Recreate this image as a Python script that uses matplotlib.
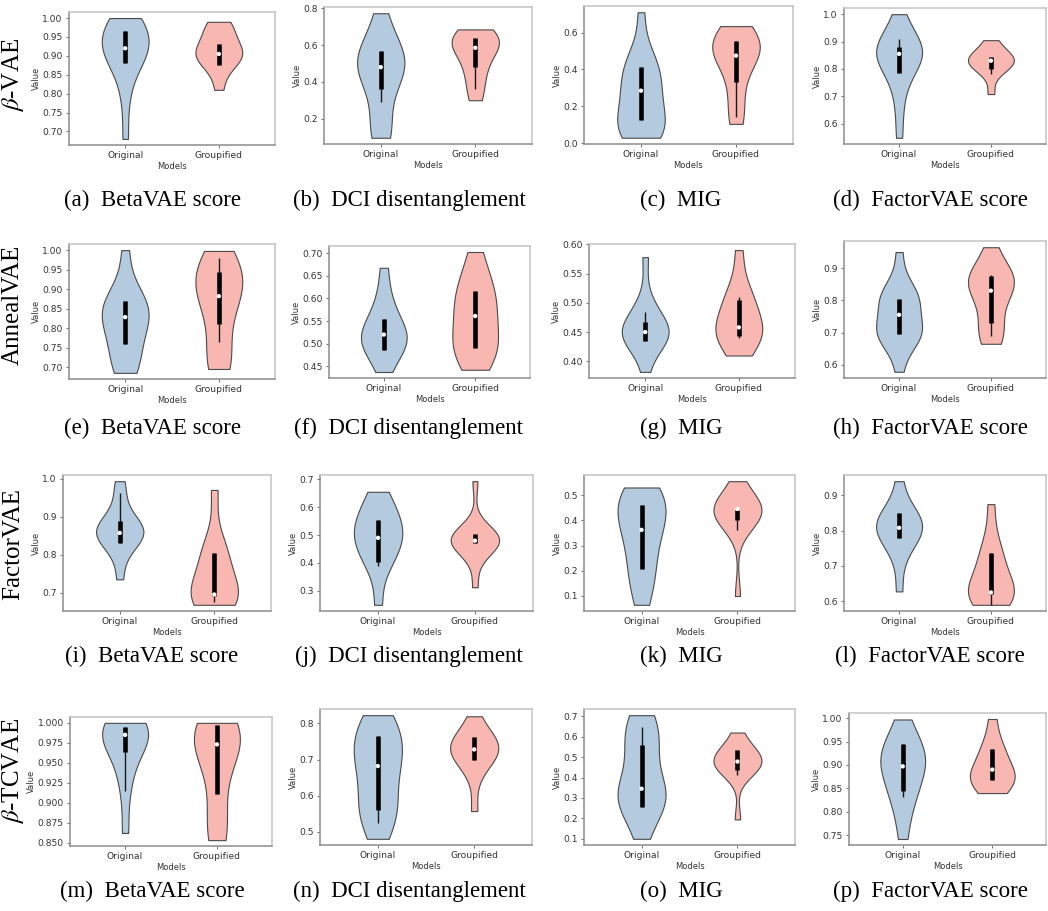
import matplotlib
matplotlib.use("Agg")
import matplotlib.pyplot as plt
from matplotlib.ticker import MultipleLocator
import numpy as np

plt.rcParams['mathtext.fontset'] = 'stix'

models = ['Original', 'Groupified']
methods = [r'$\beta$-VAE', 'AnnealVAE', 'FactorVAE', r'$\beta$-TCVAE']
metrics = ['BetaVAE score', 'DCI disentanglement', 'MIG', 'FactorVAE score']
letters = 'abcdefghijklmnop'

# per-run scores (original, groupified)
a_orig = [0.68, 0.78, 0.84, 0.87, 0.89, 0.90, 0.91, 0.92, 0.93, 0.94, 0.95, 0.96, 0.97, 0.99, 1.0, 1.0]
a_grp = [0.81, 0.86, 0.88, 0.89, 0.90, 0.905, 0.91, 0.92, 0.93, 0.95, 0.97, 0.98, 0.99]
b_orig = [0.096, 0.12, 0.15, 0.29, 0.36, 0.42, 0.46, 0.48, 0.50, 0.52, 0.54, 0.565, 0.60, 0.68, 0.773]
b_grp = [0.30, 0.36, 0.44, 0.48, 0.54, 0.58, 0.60, 0.62, 0.63, 0.64, 0.66, 0.685]
c_orig = [0.03, 0.035, 0.05, 0.07, 0.09, 0.11, 0.125, 0.17, 0.22, 0.26, 0.285, 0.31, 0.36, 0.40,
          0.415, 0.45, 0.50, 0.71]
c_grp = [0.105, 0.145, 0.25, 0.33, 0.42, 0.46, 0.475, 0.50, 0.52, 0.54, 0.555, 0.58, 0.60, 0.635]
d_orig = [0.548, 0.66, 0.74, 0.785, 0.81, 0.83, 0.845, 0.855, 0.865, 0.875, 0.88, 0.89, 0.91, 0.95, 1.0]
d_grp = [0.708, 0.78, 0.80, 0.81, 0.82, 0.83, 0.835, 0.84, 0.845, 0.86, 0.88, 0.905]
e_orig = [0.685, 0.69, 0.71, 0.74, 0.76, 0.78, 0.80, 0.82, 0.828, 0.84, 0.85, 0.86, 0.87, 0.88, 0.92, 1.0]
e_grp = [0.695, 0.70, 0.72, 0.765, 0.81, 0.85, 0.88, 0.882, 0.90, 0.92, 0.935, 0.945, 0.96, 0.98, 0.998]
f_orig = [0.437, 0.47, 0.485, 0.495, 0.505, 0.51, 0.52, 0.53, 0.54, 0.555, 0.58, 0.61, 0.668]
f_grp = [0.442, 0.47, 0.48, 0.49, 0.50, 0.52, 0.55, 0.561, 0.58, 0.60, 0.617, 0.63, 0.66, 0.703]
g_orig = [0.382, 0.42, 0.43, 0.435, 0.44, 0.445, 0.45, 0.455, 0.46, 0.468, 0.475, 0.485, 0.51, 0.578]
g_grp = [0.41, 0.42, 0.435, 0.443, 0.45, 0.455, 0.458, 0.465, 0.48, 0.50, 0.505, 0.51, 0.54, 0.59]
h_orig = [0.578, 0.66, 0.69, 0.695, 0.70, 0.70, 0.705, 0.71, 0.755, 0.79, 0.805, 0.81, 0.81, 0.815, 0.85, 0.95]
h_grp = [0.665, 0.69, 0.70, 0.73, 0.78, 0.82, 0.83, 0.845, 0.86, 0.87, 0.875, 0.88, 0.91, 0.965]
i_orig = [0.735, 0.80, 0.83, 0.84, 0.85, 0.855, 0.857, 0.86, 0.87, 0.88, 0.888, 0.91, 0.962, 0.993]
i_grp = [0.668, 0.675, 0.685, 0.69, 0.695, 0.70, 0.72, 0.76, 0.80, 0.805, 0.83, 0.97]
j_orig = [0.25, 0.39, 0.405, 0.44, 0.47, 0.49, 0.50, 0.52, 0.54, 0.555, 0.59, 0.62, 0.655]
j_grp = [0.313, 0.42, 0.46, 0.47, 0.473, 0.477, 0.48, 0.483, 0.49, 0.50, 0.502, 0.52, 0.693]
k_orig = [0.065, 0.12, 0.18, 0.205, 0.25, 0.30, 0.34, 0.362, 0.39, 0.42, 0.44, 0.46, 0.48, 0.50, 0.52, 0.53]
k_grp = [0.10, 0.36, 0.40, 0.41, 0.42, 0.43, 0.44, 0.445, 0.45, 0.46, 0.48, 0.50, 0.555]
l_orig = [0.628, 0.72, 0.76, 0.778, 0.79, 0.80, 0.808, 0.815, 0.83, 0.84, 0.85, 0.87, 0.94]
l_grp = [0.59, 0.60, 0.61, 0.62, 0.625, 0.63, 0.64, 0.66, 0.70, 0.72, 0.738, 0.78, 0.875]
m_orig = [0.862, 0.915, 0.94, 0.963, 0.97, 0.98, 0.985, 0.99, 0.993, 0.995, 1.0, 1.0]
m_grp = [0.853, 0.86, 0.88, 0.911, 0.94, 0.96, 0.97, 0.973, 0.98, 0.99, 0.997, 1.0, 1.0]
n_orig = [0.48, 0.525, 0.55, 0.56, 0.58, 0.62, 0.66, 0.682, 0.70, 0.72, 0.74, 0.765, 0.78, 0.80, 0.823]
n_grp = [0.557, 0.65, 0.69, 0.70, 0.71, 0.72, 0.728, 0.735, 0.745, 0.76, 0.763, 0.78, 0.82]
o_orig = [0.10, 0.20, 0.255, 0.27, 0.29, 0.31, 0.33, 0.345, 0.38, 0.45, 0.52, 0.558, 0.60, 0.645, 0.68, 0.705]
o_grp = [0.195, 0.41, 0.435, 0.45, 0.46, 0.47, 0.478, 0.49, 0.50, 0.52, 0.535, 0.56, 0.62]
p_orig = [0.742, 0.80, 0.832, 0.845, 0.87, 0.89, 0.897, 0.91, 0.92, 0.93, 0.945, 0.96, 0.997]
p_grp = [0.84, 0.85, 0.86, 0.868, 0.875, 0.88, 0.89, 0.90, 0.92, 0.935, 0.95, 0.998]

# inner box: whisker low, q1, median, q3, whisker high
a_box = [[0.88, 0.88, 0.92, 0.965, 0.965], [0.875, 0.875, 0.905, 0.93, 0.93]]
b_box = [[0.29, 0.36, 0.48, 0.565, 0.565], [0.36, 0.48, 0.585, 0.64, 0.64]]
c_box = [[0.125, 0.125, 0.285, 0.415, 0.415], [0.145, 0.33, 0.475, 0.555, 0.555]]
d_box = [[0.785, 0.785, 0.855, 0.88, 0.91], [0.78, 0.80, 0.83, 0.845, 0.845]]
e_box = [[0.76, 0.76, 0.828, 0.87, 0.87], [0.765, 0.81, 0.882, 0.945, 0.98]]
f_box = [[0.485, 0.485, 0.52, 0.555, 0.555], [0.49, 0.49, 0.561, 0.617, 0.617]]
g_box = [[0.435, 0.435, 0.45, 0.468, 0.485], [0.44, 0.443, 0.458, 0.505, 0.51]]
h_box = [[0.695, 0.695, 0.755, 0.805, 0.805], [0.69, 0.73, 0.83, 0.875, 0.88]]
i_box = [[0.83, 0.83, 0.857, 0.888, 0.962], [0.675, 0.69, 0.695, 0.805, 0.805]]
j_box = [[0.39, 0.405, 0.49, 0.555, 0.555], [0.473, 0.473, 0.48, 0.502, 0.502]]
k_box = [[0.205, 0.205, 0.362, 0.46, 0.46], [0.36, 0.40, 0.445, 0.44, 0.44]]
l_box = [[0.778, 0.778, 0.808, 0.85, 0.85], [0.59, 0.62, 0.625, 0.738, 0.738]]
m_box = [[0.915, 0.963, 0.985, 0.995, 0.995], [0.911, 0.911, 0.973, 0.997, 0.997]]
n_box = [[0.525, 0.56, 0.682, 0.765, 0.765], [0.70, 0.70, 0.728, 0.763, 0.763]]
o_box = [[0.255, 0.255, 0.345, 0.558, 0.645], [0.41, 0.435, 0.478, 0.535, 0.535]]
p_box = [[0.832, 0.845, 0.897, 0.945, 0.945], [0.868, 0.868, 0.89, 0.935, 0.935]]

ytick_steps = [0.05, 0.2, 0.2, 0.1,
               0.05, 0.05, 0.05, 0.1,
               0.1, 0.1, 0.1, 0.1,
               0.025, 0.1, 0.1, 0.05]

samples = [(a_orig, a_grp), (b_orig, b_grp), (c_orig, c_grp), (d_orig, d_grp),
           (e_orig, e_grp), (f_orig, f_grp), (g_orig, g_grp), (h_orig, h_grp),
           (i_orig, i_grp), (j_orig, j_grp), (k_orig, k_grp), (l_orig, l_grp),
           (m_orig, m_grp), (n_orig, n_grp), (o_orig, o_grp), (p_orig, p_grp)]
boxes = [a_box, b_box, c_box, d_box, e_box, f_box, g_box, h_box,
         i_box, j_box, k_box, l_box, m_box, n_box, o_box, p_box]

# axes boxes in pixels: left, top, right, bottom
W, H = 1048, 911
ax_px = [(69, 12, 275, 145), (324, 7, 532, 144), (584, 6, 793, 144), (844, 8, 1046, 144),
         (69, 244, 275, 379), (329, 246, 530, 378), (589, 244, 795, 378), (844, 241, 1046, 378),
         (63, 475, 271, 611), (320, 475, 533, 611), (584, 475, 795, 611), (844, 475, 1046, 611),
         (70, 717, 272, 846), (320, 709, 532, 845), (584, 709, 795, 845), (849, 713, 1046, 845)]
caption_x = [152, 409, 681, 930]
caption_y = [206, 434, 662, 897]
rowlabel_y = [75, 305, 544, 771]

colors = ['#b4cade', '#f9b7b2']

fig = plt.figure(figsize=(W / 100, H / 100), dpi=100)

for idx in range(16):
    l, t, r, b = ax_px[idx]
    ax = fig.add_axes([l / W, 1 - b / H, (r - l) / W, (b - t) / H])
    parts = ax.violinplot(list(samples[idx]), positions=[0, 1], widths=0.5,
                          showextrema=False, points=300)
    for body, c in zip(parts['bodies'], colors):
        body.set_facecolor(c)
        body.set_edgecolor('#4a4a4a')
        body.set_linewidth(0.8)
        body.set_alpha(1)
    for pos, st in zip([0, 1], boxes[idx]):
        ax.vlines(pos, st[0], st[4], color='#1a1a1a', lw=1.0, zorder=3)
        ax.vlines(pos, st[1], st[3], color='black', lw=3.3, zorder=4)
        ax.scatter([pos], [st[2]], s=10, color='white', edgecolors='none', zorder=5)

    ax.set_xlim(-0.6, 1.6)
    ax.set_xticks([0, 1])
    ax.set_xticklabels(models)
    ax.yaxis.set_major_locator(MultipleLocator(ytick_steps[idx]))
    ax.tick_params(labelsize=6.6, length=2.5, width=0.6, colors='#555555',
                   labelcolor='#333333', pad=2)
    ax.set_xlabel('Models', fontsize=6, color='#333333', labelpad=1)
    ax.set_ylabel('Value', fontsize=6, color='#333333', labelpad=1)
    for side in ['left', 'bottom']:
        ax.spines[side].set_color('#8c8c8c')
    for side in ['top', 'right']:
        ax.spines[side].set_color('#c4c4c4')
    for sp in ax.spines.values():
        sp.set_linewidth(1.1)

    row, col = divmod(idx, 4)
    fig.text(caption_x[col] / W, 1 - caption_y[row] / H,
             '(' + letters[idx] + ')  ' + metrics[col],
             ha='center', va='baseline', fontsize=16.5, family='Liberation Serif')

for row in range(4):
    fig.text(13 / W, 1 - rowlabel_y[row] / H, methods[row], rotation=90,
             ha='center', va='center', fontsize=18, family='Liberation Serif')

fig.savefig('out.png', dpi=100)
